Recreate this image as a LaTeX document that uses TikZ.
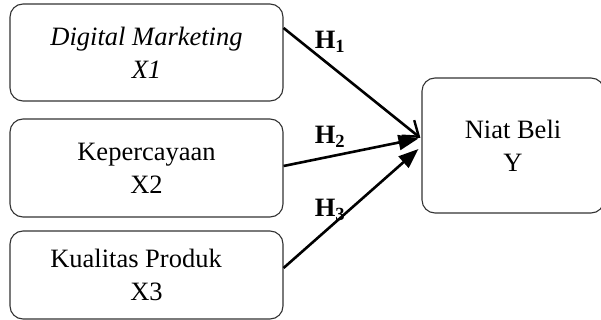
\documentclass[tikz,border=0pt]{standalone}
\usepackage{fontspec}
\setmainfont{Liberation Serif}
\usetikzlibrary{arrows.meta}
\begin{document}
\begin{tikzpicture}[x=1pt,y=-1pt,
  box/.style={draw=black!80,line width=1.1pt,rounded corners=13pt,align=center,
    font=\fontsize{26.5}{33}\selectfont,inner sep=0pt},
  hlab/.style={font=\fontsize{26.5}{30}\selectfont\bfseries},
  conn/.style={line width=2.6pt}]
\useasboundingbox (0,0) rectangle (601,320);
\node[box,minimum width=273pt,minimum height=97pt] (b1) at (146.5,52.5) {\itshape Digital Marketing\\\itshape X1};
\node[box,minimum width=273pt,minimum height=98pt] (b2) at (146.5,168) {Kepercayaan\\X2};
\node[box,minimum width=273pt,minimum height=88pt] (b3) at (146.5,275) {Kualitas Produk\hspace*{21pt}\\X3};
\node[box,minimum width=182pt,minimum height=135pt] (y) at (513,145.5) {Niat Beli\\Y};
\draw[conn,-{Straight Barb[length=14pt,width=20pt,line width=2.4pt]}] ([yshift=24.5pt]b1.east) -- ([yshift=7.5pt,xshift=-1pt]y.west);
\draw[conn,-{Triangle[length=20pt,width=15pt]}] ([yshift=2pt]b2.east) -- ([yshift=7pt,xshift=-3pt]y.west);
\draw[conn,-{Triangle[length=20pt,width=15pt]}] ([yshift=7pt]b3.east) -- ([yshift=-3.5pt,xshift=-3pt]y.west);
\node[hlab] (h1) at (330,42) {H\textsubscript{1}};
\node[hlab] (h2) at (330,137) {H\textsubscript{2}};
\node[hlab] (h3) at (330,210) {H\textsubscript{3}};
\end{tikzpicture}
\end{document}
